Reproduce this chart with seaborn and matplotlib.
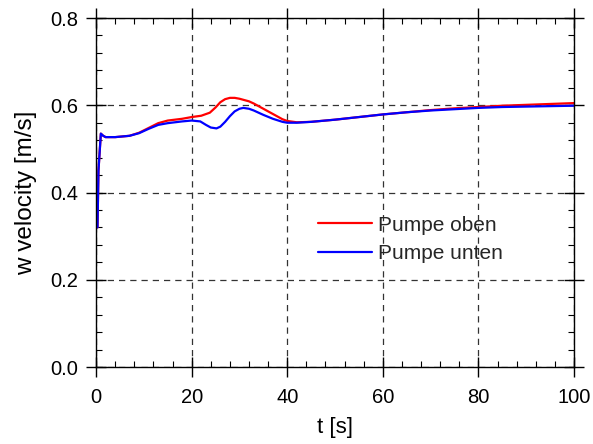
import numpy as np
import pandas as pd
import matplotlib
matplotlib.use("Agg")
import matplotlib.pyplot as plt
import seaborn as sns
from matplotlib.ticker import MultipleLocator

t_oben = [0.3, 0.5, 1.0, 1.5, 2, 4, 7, 9, 11, 13, 15, 18, 20, 22, 23.8, 25, 26, 27, 28, 29, 30, 32, 33, 35, 37, 39, 40, 42, 45, 50, 55, 60, 65, 70, 75, 80, 85, 90, 95, 100]
v_oben = [0.32, 0.45, 0.535, 0.53, 0.527, 0.527, 0.53, 0.537, 0.548, 0.559, 0.565, 0.569, 0.573, 0.576, 0.583, 0.595, 0.607, 0.614, 0.617, 0.617, 0.615, 0.609, 0.604, 0.592, 0.58, 0.568, 0.564, 0.561, 0.562, 0.567, 0.573, 0.579, 0.584, 0.589, 0.593, 0.596, 0.599, 0.601, 0.603, 0.605]
t_unten = [0.3, 0.5, 1.0, 1.5, 2, 4, 7, 9, 11, 13, 15, 18, 20, 21.8, 23, 24, 25.2, 26, 27, 28, 29, 30, 30.8, 32, 33, 35, 37, 39, 40, 42, 45, 50, 55, 60, 65, 70, 75, 80, 85, 90, 95, 100]
v_unten = [0.32, 0.45, 0.535, 0.53, 0.527, 0.527, 0.53, 0.536, 0.546, 0.555, 0.559, 0.563, 0.565, 0.563, 0.555, 0.549, 0.547, 0.551, 0.562, 0.575, 0.586, 0.592, 0.594, 0.592, 0.588, 0.578, 0.569, 0.562, 0.56, 0.56, 0.562, 0.567, 0.573, 0.579, 0.584, 0.588, 0.591, 0.594, 0.596, 0.597, 0.598, 0.599]
labels = ["Pumpe oben", "Pumpe unten"]
colors = ["#ff0000", "#0000ff"]

df = pd.concat([
    pd.DataFrame({"t": t_oben, "v": v_oben, "series": labels[0]}),
    pd.DataFrame({"t": t_unten, "v": v_unten, "series": labels[1]}),
])

sns.set_theme(style="white")
plt.rcParams["font.family"] = ["Liberation Sans", "DejaVu Sans"]

fig = plt.figure(figsize=(5.93, 4.44), dpi=100)
ax = fig.add_axes([0.162, 0.1734, 0.806, 0.786])
sns.lineplot(data=df, x="t", y="v", hue="series", palette=dict(zip(labels, colors)),
             linewidth=1.6, ax=ax, sort=False, estimator=None)

ax.set_xlim(0, 100)
ax.set_ylim(0, 0.8)
ax.xaxis.set_major_locator(MultipleLocator(20))
ax.xaxis.set_minor_locator(MultipleLocator(4))
ax.yaxis.set_major_locator(MultipleLocator(0.2))
ax.yaxis.set_minor_locator(MultipleLocator(0.04))
ax.xaxis.set_major_formatter(matplotlib.ticker.FormatStrFormatter("%d"))
ax.yaxis.set_major_formatter(matplotlib.ticker.FormatStrFormatter("%.1f"))
ax.tick_params(which="major", direction="inout", length=14, width=1, colors="black",
               labelsize=14.5, top=True, right=True, bottom=True, left=True)
ax.tick_params(axis="x", which="major", pad=8)
ax.tick_params(axis="y", which="major", pad=6)
ax.tick_params(which="minor", direction="in", length=4, width=0.8, colors="black",
               top=True, right=True, bottom=True, left=True)
for s in ax.spines.values():
    s.set_color("black")
    s.set_linewidth(1)
ax.grid(True, which="major", color="#333333", linestyle=(0, (5, 4)), linewidth=0.9)
ax.set_xlabel("t [s]", fontsize=16, color="black", labelpad=7)
ax.set_ylabel("w velocity [m/s]", fontsize=17.5, color="black", labelpad=9)
ax.legend(title=None, frameon=False, fontsize=15, loc="center left",
          bbox_to_anchor=(0.464, 0.366), handlelength=2.6, handletextpad=0.3,
          labelspacing=0.45, borderpad=0, borderaxespad=0)

fig.savefig("out.png", dpi=100)
